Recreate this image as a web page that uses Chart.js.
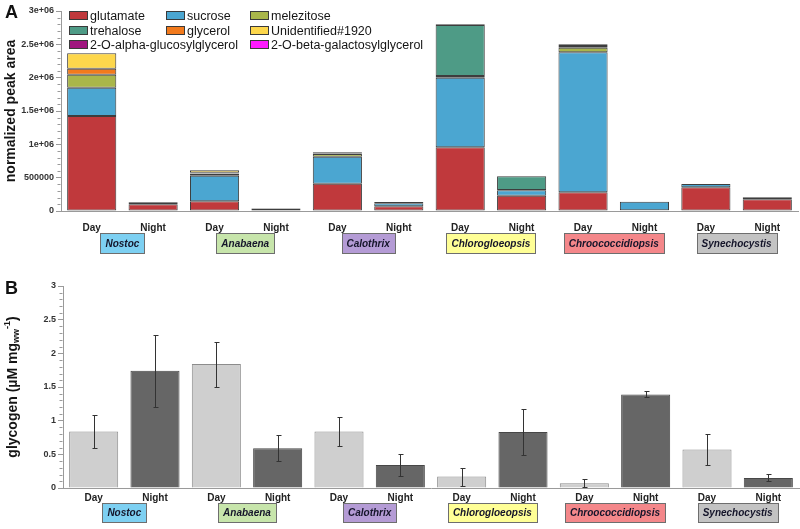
<!DOCTYPE html>
<html><head><meta charset="utf-8">
<script src="https://cdn.jsdelivr.net/npm/chart.js@4/dist/chart.umd.min.js"></script>
<style>
html,body{margin:0;padding:0;background:#fff;}
#wrap{position:relative;width:800px;height:529px;overflow:hidden;font-family:"Liberation Sans",Arial,sans-serif;}
#cA{position:absolute;left:0;top:0;}
#cB{position:absolute;left:0;top:265px;}
.pl{position:absolute;font-weight:bold;font-size:18px;color:#111;line-height:18px;}
</style></head><body>
<div id="wrap">
<canvas id="cA" width="800" height="262"></canvas>
<canvas id="cB" width="800" height="264"></canvas>
<div class="pl" style="left:5px;top:3px;">A</div>
<div class="pl" style="left:5px;top:279px;">B</div>
</div>
<script>
// ---------- DATA ----------
const categories = ['Day','Night','Day','Night','Day','Night','Day','Night','Day','Night','Day','Night'];
const species = ['Nostoc','Anabaena','Calothrix','Chlorogloeopsis','Chroococcidiopsis','Synechocystis'];
const metaboliteNames = ['glutamate','sucrose','melezitose','trehalose','glycerol','Unidentified#1920','2-O-alpha-glucosylglycerol','2-O-beta-galactosylglycerol'];
// order: NosD, NosN, AnaD, AnaN, CalD, CalN, ChlD, ChlN, ChrD, ChrN, SynD, SynN
const glutamate    = [1425000, 100000, 145000, 30000, 410000, 70000, 955000, 230000, 280000, 12000, 355000, 175000];
const sucrose      = [425000, 5000, 385000, 0, 405000, 45000, 1045000, 80000, 2100000, 128000, 50000, 30000];
const melezitose   = [195000, 0, 30000, 0, 40000, 0, 25000, 5000, 70000, 0, 0, 0];
const trehalose    = [0, 15000, 8000, 8000, 0, 20000, 765000, 205000, 25000, 0, 0, 0];
const glycerol     = [90000, 10000, 5000, 5000, 8000, 0, 10000, 0, 25000, 0, 0, 0];
const unidentified = [230000, 5000, 37000, 0, 17000, 0, 0, 0, 0, 0, 0, 0];
const alphaGG      = [0, 0, 0, 0, 0, 0, 0, 0, 0, 0, 0, 0];
const betaGG       = [0, 0, 0, 0, 0, 0, 0, 0, 0, 0, 0, 0];
const yTicksA = ['0','500000','1e+06','1.5e+06','2e+06','2.5e+06','3e+06'];

const glycogen     = [0.84, 1.74, 1.84, 0.59, 0.84, 0.34, 0.17, 0.83, 0.07, 1.39, 0.57, 0.15];
const glycogenLow  = [0.60, 1.21, 1.50, 0.40, 0.62, 0.18, 0.03, 0.49, 0.02, 1.35, 0.34, 0.11];
const glycogenHigh = [1.08, 2.27, 2.17, 0.78, 1.05, 0.50, 0.30, 1.17, 0.13, 1.44, 0.80, 0.21];
const yTicksB = ['0','0.5','1','1.5','2','2.5','3'];

// ---------- STYLE ----------
const FONT = '"Liberation Sans", Arial, sans-serif';
const metaboliteColors = ['#c0393c','#4ba6d1','#a9b64a','#4e9b86','#f27a1c','#fdd74c','#a0157f','#ff1aff'];
const speciesColors = ['#7dd0f2','#c7e5ab','#b49bd5','#ffff96','#f4878a','#c3c3c3'];
const AXIS = '#9a9a9a';

function minorTicks(step) {
  return {
    id: 'minorTicks',
    afterDraw(chart) {
      const y = chart.scales.y, ctx = chart.ctx;
      const x0 = Math.round(y.right) - 0.5;
      ctx.save();
      ctx.strokeStyle = AXIS; ctx.lineWidth = 1;
      const major = y.options.ticks.stepSize;
      const n = Math.round((y.max - y.min) / step);
      for (let i = 0; i <= n; i++) {
        const v = y.min + i * step;
        if (Math.abs(v / major - Math.round(v / major)) < 1e-6) continue;
        const py = Math.round(y.getPixelForValue(v)) + 0.5;
        ctx.beginPath(); ctx.moveTo(x0 - 3, py); ctx.lineTo(x0, py); ctx.stroke();
      }
      ctx.restore();
    }
  };
}

function speciesBoxes(yTop, h) {
  return {
    id: 'speciesBoxes',
    afterDraw(chart) {
      const ctx = chart.ctx, x = chart.scales.x;
      ctx.save();
      ctx.font = 'italic bold 10px ' + FONT;
      ctx.textAlign = 'center'; ctx.textBaseline = 'middle';
      species.forEach((name, k) => {
        const cx = (x.getPixelForValue(2 * k) + x.getPixelForValue(2 * k + 1)) / 2;
        const w = Math.round(ctx.measureText(name).width + 10);
        const left = Math.round(cx - w / 2) + 0.5;
        ctx.fillStyle = speciesColors[k];
        ctx.fillRect(left, yTop + 0.5, w, h);
        ctx.strokeStyle = '#6e6e6e'; ctx.lineWidth = 1;
        ctx.strokeRect(left, yTop + 0.5, w, h);
        ctx.fillStyle = '#15152a';
        ctx.fillText(name, cx, yTop + h / 2 + 1);
      });
      ctx.restore();
    }
  };
}

function yTitle(parts, cx) {
  return {
    id: 'yTitle',
    afterDraw(chart) {
      const ctx = chart.ctx, a = chart.chartArea;
      const cy = (a.top + a.bottom) / 2;
      ctx.save();
      const fontFor = p => (p.s === 'n' ? 'bold 14px ' : 'bold 9px ') + FONT;
      let total = 0;
      parts.forEach(p => { ctx.font = fontFor(p); total += ctx.measureText(p.t).width; });
      ctx.translate(cx, cy);
      ctx.rotate(-Math.PI / 2);
      ctx.fillStyle = '#151515';
      ctx.textBaseline = 'alphabetic';
      let xx = -total / 2;
      parts.forEach(p => {
        ctx.font = fontFor(p);
        const dy = p.s === 'sub' ? 2 : (p.s === 'sup' ? -7 : 0);
        ctx.fillText(p.t, xx, 5 + dy);
        xx += ctx.measureText(p.t).width;
      });
      ctx.restore();
    }
  };
}

const legendGrid = {
  id: 'legendGrid',
  afterDraw(chart) {
    const ctx = chart.ctx;
    const colX = [69, 166, 250], rowY = [16, 31, 45];
    const slots = [[0,0],[1,0],[2,0],[0,1],[1,1],[2,1],[0,2],[2,2]];
    ctx.save();
    ctx.font = '12.5px ' + FONT;
    ctx.textBaseline = 'middle';
    chart.data.datasets.forEach((ds, i) => {
      const x = colX[slots[i][0]], y = rowY[slots[i][1]];
      ctx.fillStyle = ds.backgroundColor;
      ctx.fillRect(x + 0.5, y - 4.5, 18, 8);
      ctx.strokeStyle = '#3a3a3a'; ctx.lineWidth = 1;
      ctx.strokeRect(x + 0.5, y - 4.5, 18, 8);
      ctx.fillStyle = '#151515';
      ctx.fillText(ds.label, x + 21, y + 1);
    });
    ctx.restore();
  }
};

const errorBars = {
  id: 'errorBars',
  afterDatasetsDraw(chart) {
    const ctx = chart.ctx, y = chart.scales.y;
    const meta = chart.getDatasetMeta(0);
    ctx.save();
    ctx.strokeStyle = '#333'; ctx.lineWidth = 1;
    meta.data.forEach((bar, i) => {
      const x = Math.round(bar.x) + 0.5;
      const y1 = Math.round(y.getPixelForValue(glycogenLow[i])) + 0.5;
      const y2 = Math.round(y.getPixelForValue(glycogenHigh[i])) + 0.5;
      ctx.beginPath();
      ctx.moveTo(x, y1); ctx.lineTo(x, y2);
      ctx.moveTo(x - 2, y1); ctx.lineTo(x + 3, y1);
      ctx.moveTo(x - 2, y2); ctx.lineTo(x + 3, y2);
      ctx.stroke();
    });
    ctx.restore();
  }
};

const seriesA = [glutamate, sucrose, melezitose, trehalose, glycerol, unidentified, alphaGG, betaGG];

function xScale(h, pad) {
  return {
    stacked: true,
    offset: true,
    grid: { display: false, drawTicks: false },
    border: { display: true, color: AXIS, width: 1 },
    ticks: { font: { family: FONT, size: 10, weight: 'bold' }, color: '#222', padding: pad, maxRotation: 0, autoSkip: false },
    afterFit: s => { s.height = h; }
  };
}
function yScale(max, step, labels, w) {
  return {
    min: 0, max: max,
    grid: { display: true, drawOnChartArea: false, drawTicks: true, tickLength: 5, color: AXIS },
    border: { display: true, color: AXIS, width: 1 },
    ticks: {
      stepSize: step,
      font: { family: FONT, size: 9, weight: 'bold' }, color: '#333', padding: 2,
      callback: (v, i) => labels[i]
    },
    afterFit: s => { s.width = w; }
  };
}

new Chart(document.getElementById('cA'), {
  type: 'bar',
  data: {
    labels: categories,
    datasets: seriesA.map((arr, i) => ({
      label: metaboliteNames[i],
      data: arr.map(v => v === 0 ? null : v),
      backgroundColor: metaboliteColors[i],
      borderColor: '#3d3d3d',
      borderWidth: 1,
      borderSkipped: false,
      barPercentage: 0.8,
      categoryPercentage: 1.0
    }))
  },
  options: {
    responsive: false, animation: false,
    layout: { padding: { top: 11, right: 2, left: 0, bottom: 0 } },
    plugins: { legend: { display: false }, tooltip: { enabled: false } },
    scales: {
      x: xScale(51, 11),
      y: Object.assign(yScale(3000000, 500000, yTicksA, 61), { stacked: true })
    }
  },
  plugins: [minorTicks(100000), speciesBoxes(233, 20), legendGrid,
            yTitle([{ t: 'normalized peak area', s: 'n' }], 10)]
});

new Chart(document.getElementById('cB'), {
  type: 'bar',
  data: {
    labels: categories,
    datasets: [{
      label: 'glycogen',
      data: glycogen,
      backgroundColor: categories.map(c => c === 'Day' ? '#cfcfcf' : '#666666'),
      borderColor: categories.map(c => c === 'Day' ? '#8c8c8c' : '#474747'),
      borderWidth: 1,
      borderSkipped: 'bottom',
      barPercentage: 0.8,
      categoryPercentage: 1.0
    }]
  },
  options: {
    responsive: false, animation: false,
    layout: { padding: { top: 21, right: 1, left: 0, bottom: 0 } },
    plugins: { legend: { display: false }, tooltip: { enabled: false } },
    scales: {
      x: xScale(41, 4),
      y: yScale(3, 0.5, yTicksB, 63)
    }
  },
  plugins: [minorTicks(0.1), errorBars, speciesBoxes(238, 19),
            yTitle([{ t: 'glycogen (µM mg', s: 'n' }, { t: 'ww', s: 'sub' }, { t: '-1', s: 'sup' }, { t: ')', s: 'n' }], 12)]
});
</script>
</body></html>
